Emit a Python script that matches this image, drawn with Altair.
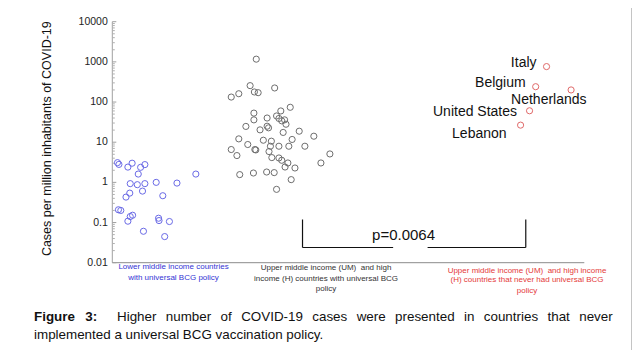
import altair as alt
import pandas as pd

# ---- data ----
blue_x = [1.1, 1.4, 3.3, 4.2, 6.0, 6.9, 5.5, 17.7, 3.8, 5.3, 6.9, 9.3, 13.7, 6.4,
          3.7, 2.9, 10.7, 1.3, 1.8, 3.8, 4.3, 3.3, 9.8, 9.9, 12.1, 6.6, 11.1]
blue_v = [3.1, 2.8, 2.4, 3.0, 2.37, 2.77, 1.61, 1.61, 0.93, 0.876, 0.93, 1.0, 0.96, 0.606,
          0.54, 0.43, 0.465, 0.208, 0.2, 0.141, 0.152, 0.108, 0.128, 0.112, 0.106, 0.0606, 0.0447]

gray_x = [30.5, 29.2, 34.4, 25.2, 26.8, 30.1, 30.9, 30.0, 30.0, 32.8, 34.8, 35.7, 37.7,
          35.3, 35.9, 36.5, 36.8, 28.3, 31.3, 33.1, 32.8, 36.2, 39.6, 42.7, 26.8, 32.0,
          33.7, 38.1, 28.7, 30.2, 30.4, 33.5, 35.3, 37.4, 40.8, 25.2, 26.4, 33.2, 33.8,
          35.3, 35.9, 37.2, 36.6, 38.7, 46.1, 44.2, 27.0, 29.9, 32.7, 34.3, 37.9, 34.8]
gray_v = [1168, 256, 224, 133, 161, 178, 171, 53, 36, 40, 45, 60, 74,
          39, 34, 36, 28, 24.7, 20.3, 22.8, 25, 17.5, 18.8, 14.1, 12.1, 11.2,
          10.6, 11.7, 8.76, 6.57, 6.42, 7.94, 7.94, 7.94, 7.94, 6.57, 4.65, 5.85, 4.14,
          4.05, 3.55, 3.04, 2.41, 2.28, 5.1, 3.04, 1.56, 1.71, 1.81, 1.75, 1.17, 0.67]

countries = ["Italy", "Belgium", "Netherlands", "United States", "Lebanon"]
red_x = [92.0, 89.7, 97.2, 88.4, 86.5]
red_v = [763, 241, 200, 60.6, 26.6]

y_tick_values = [0.01, 0.1, 1, 10, 100, 1000, 10000]
y_tick_labels = ["0.01", "0.1", "1", "10", "100", "1000", "10000"]

group_label_x = [12.97, 45.28, 87.86]
group_labels = [
    ["Lower middle income countries", "with universal BCG policy"],
    ["Upper middle income (UM)\u00a0 and high", "income (H) countries with universal BCG", "policy"],
    ["Upper middle income (UM)\u00a0 and high income", "(H) countries that never had universal BCG", "policy"],
]

bracket_x = [40.3, 87.6]
bracket_gap = [59.5, 66.8]
bracket_top = 0.119
bracket_bottom = 0.0239
p_text = "p=0.0064"
p_pos = (61.7, 0.0483)

y_title = "Cases per million inhabitants of COVID-19"
caption_bold = "Figure\u2002 3:"
caption_words1 = ["Higher", "number", "of", "COVID-19", "cases", "were", "presented",
                  "in", "countries", "that", "never"]
caption_line2 = "implemented a universal BCG vaccination policy."

# ---- layout ----
W, H = 472, 241
FONT = "Liberation Sans"
BLUE_T, GRAY_T, RED_T = "#3434d4", "#333333", "#e43a3a"
AXIS_C = "#a0a0a0"

xscale = alt.Scale(domain=[0, 100], nice=False, zero=False)
yscale = alt.Scale(type="log", domain=[0.01, 10000], nice=False)


def X(field="x"):
    return alt.X(f"{field}:Q", scale=xscale, axis=None)


def Y(field="v"):
    return alt.Y(f"{field}:Q", scale=yscale, axis=None)


pts = pd.DataFrame({
    "x": blue_x + gray_x + red_x,
    "v": blue_v + gray_v + red_v,
    "g": ["blue"] * len(blue_x) + ["gray"] * len(gray_x) + ["red"] * len(red_x),
})

one = alt.Data(values=[{"a": 1}])

layers = []

# axis lines
layers.append(alt.Chart(one).mark_rule(color=AXIS_C).encode(
    x=alt.value(0), y=alt.value(0), y2=alt.value(H)))
layers.append(alt.Chart(one).mark_rule(color="#8c8c8c").encode(
    x=alt.value(0), x2=alt.value(W), y=alt.value(H)))

# inward axis ticks (major at decades, minor at 2..9)
minor = []
for d in y_tick_values[:-1]:
    for m in range(2, 10):
        minor.append(d * m)
layers.append(alt.Chart(pd.DataFrame({"v": minor})).mark_rule(color="#b0b0b0").encode(
    y=Y(), x=alt.value(0), x2=alt.value(2.5)))
layers.append(alt.Chart(pd.DataFrame({"v": y_tick_values})).mark_rule(color=AXIS_C).encode(
    y=Y(), x=alt.value(0), x2=alt.value(4)))
layers.append(alt.Chart(pd.DataFrame({"v": y_tick_values, "t": y_tick_labels})).mark_text(
    align="right", baseline="middle", fontSize=10.5, font=FONT, color="#222222").encode(
    y=Y(), x=alt.value(-4.5), text="t:N"))

# points
layers.append(alt.Chart(pts).mark_point(shape="circle", filled=False, size=38,
                                        strokeWidth=1, opacity=1).encode(
    x=X(), y=Y(),
    color=alt.Color("g:N", scale=alt.Scale(domain=["blue", "gray", "red"],
                                           range=["#6a6ae6", "#6e6e6e", "#e06a6a"]),
                    legend=None),
))

# country labels
offsets = {
    "Italy": ("right", -10, -4),
    "Belgium": ("right", -10, -4),
    "Netherlands": ("left", -60, 10),
    "United States": ("right", -12.5, 1),
    "Lebanon": ("right", -14, 9),
}
for c, xv, vv in zip(countries, red_x, red_v):
    al, dx, dy = offsets[c]
    layers.append(
        alt.Chart(pd.DataFrame({"x": [xv], "v": [vv], "c": [c]})).mark_text(
            align=al, baseline="middle", dx=dx, dy=dy, fontSize=14, font=FONT,
            color="#111111").encode(x=X(), y=Y(), text="c:N")
    )

# significance bracket
br = pd.DataFrame({
    "x": [bracket_x[0], bracket_x[1], bracket_x[0], bracket_gap[1]],
    "x2": [bracket_x[0], bracket_x[1], bracket_gap[0], bracket_x[1]],
    "v": [bracket_top, bracket_top, bracket_bottom, bracket_bottom],
    "v2": [bracket_bottom, bracket_bottom, bracket_bottom, bracket_bottom],
})
layers.append(
    alt.Chart(br).mark_rule(color="#111111", strokeWidth=1.2).encode(
        x=X(), x2="x2:Q", y=Y(), y2="v2:Q")
)
layers.append(
    alt.Chart(pd.DataFrame({"x": [p_pos[0]], "v": [p_pos[1]], "t": [p_text]})).mark_text(
        fontSize=15, font=FONT, color="#111111", baseline="middle").encode(
        x=X(), y=Y(), text="t:N")
)

# group labels below the axis
colors = [BLUE_T, GRAY_T, RED_T]
line_y = [[245.6, 256.0], [246.6, 257.0, 267.4], [249.1, 258.7, 269.1]]
for gx, lines, col, ys in zip(group_label_x, group_labels, colors, line_y):
    for ln, yy in zip(lines, ys):
        layers.append(
            alt.Chart(pd.DataFrame({"x": [gx], "t": [ln]})).mark_text(
                fontSize=8, font=FONT, color=col, baseline="middle", align="center").encode(
                x=X(), y=alt.value(yy), text="t:N")
        )

# y title
layers.append(
    alt.Chart(one).mark_text(angle=270, fontSize=12.5, font=FONT, color="#111111",
                             align="center", baseline="middle").encode(
        x=alt.value(-65), y=alt.value(117), text=alt.value(y_title))
)

# caption
sep = "\u2002\u2009"
layers.append(
    alt.Chart(one).mark_text(fontSize=13.4, font=FONT, fontWeight="bold", color="#111111",
                             align="left", baseline="middle").encode(
        x=alt.value(-78.3), y=alt.value(295.6), text=alt.value(caption_bold))
)
layers.append(
    alt.Chart(one).mark_text(fontSize=13.4, font=FONT, color="#111111",
                             align="right", baseline="middle").encode(
        x=alt.value(500.4), y=alt.value(295.6),
        text=alt.value(sep.join(caption_words1)))
)
layers.append(
    alt.Chart(one).mark_text(fontSize=13.4, font=FONT, color="#111111",
                             align="left", baseline="middle").encode(
        x=alt.value(-78.3), y=alt.value(313.3), text=alt.value(caption_line2))
)

# right frame line of the figure
layers.append(
    alt.Chart(one).mark_rule(color="#c4c4c4", strokeWidth=1).encode(
        x=alt.value(519.2), y=alt.value(-13.7), y2=alt.value(328.3))
)

chart = alt.layer(*layers).properties(
    width=W, height=H,
    padding={"left": 104.3, "top": 13.7, "right": 47.7, "bottom": 87.3},
    autosize=alt.AutoSizeParams(type="none"),
    background="white",
).configure_view(stroke=None)

chart.save("out.html", embed_options={"renderer": "svg", "actions": False})
